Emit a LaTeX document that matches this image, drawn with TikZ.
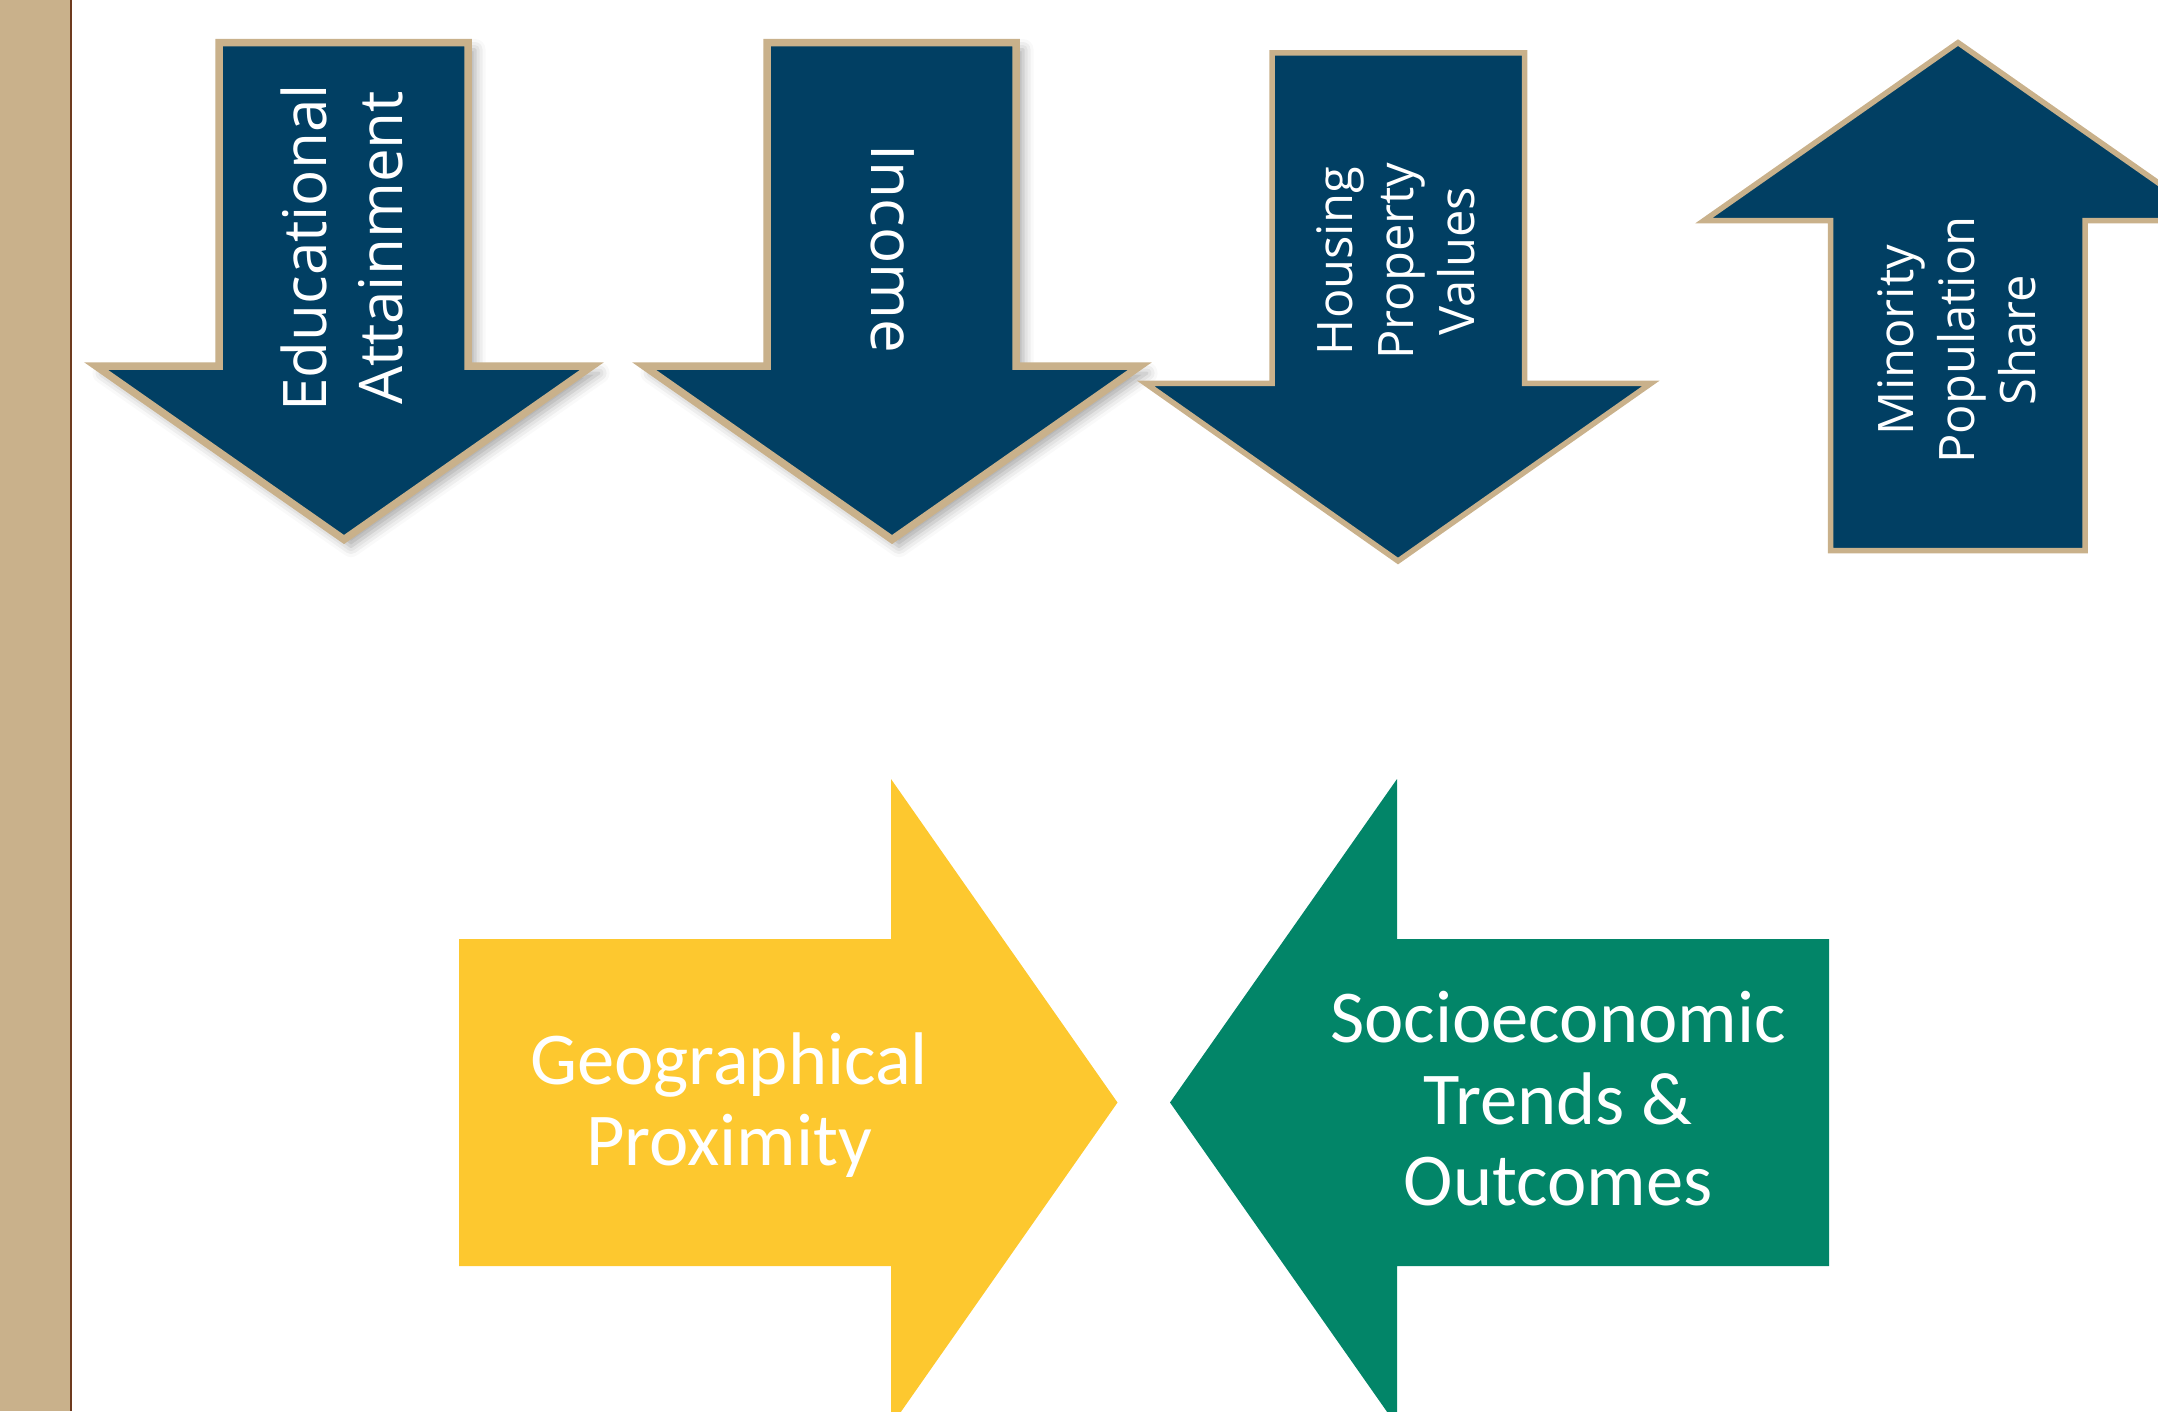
\documentclass[tikz,border=0pt]{standalone}
\usepackage{fontspec}
\newfontfamily\arrowfont{Open Sans}
\newfontfamily\calfont{Carlito}
\usetikzlibrary{shadows.blur}

\definecolor{navyblue}{RGB}{1,63,99}
\definecolor{sandtan}{RGB}{201,177,139}
\definecolor{barbrown}{RGB}{110,58,30}
\definecolor{goldyellow}{RGB}{253,200,47}
\definecolor{tealgreen}{RGB}{2,133,104}

\begin{document}
\begin{tikzpicture}[x=0.01cm,y=-0.01cm,
    bigarrow/.style={fill=navyblue,draw=sandtan,line width=0.075cm,
        blur shadow={shadow xshift=2pt,shadow yshift=-2pt,shadow blur radius=3pt,shadow opacity=35}},
    flatarrow/.style={fill=navyblue,draw=sandtan,line width=0.055cm},
    toplabel/.style={text=white,align=center,font=\arrowfont\fontsize{17.1}{21.6}\selectfont},
    smalllabel/.style={text=white,align=center,font=\arrowfont\fontsize{13.9}{17.4}\selectfont},
    biglabel/.style={text=white,align=center,font=\calfont\fontsize{21.2}{23.2}\selectfont}]

        \useasboundingbox (0,0) rectangle (2158,1411);
        \clip (0,0) rectangle (2158,1411);

        % side bar
        \fill[sandtan] (0,0) rectangle (70,1411);
        \draw[barbrown,line width=0.02cm] (71,0) -- (71,1411);

        % top row: down, down, down, up
        \draw[bigarrow] (219,42.5) -- (468,42.5) -- (468,366) -- (592,366) -- (344,539.5) -- (96,366) -- (219,366) -- cycle;
        \draw[bigarrow] (767,42.5) -- (1016,42.5) -- (1016,366) -- (1140,366) -- (892,539.5) -- (644,366) -- (767,366) -- cycle;
        \draw[flatarrow] (1272,52.8) -- (1524.5,52.8) -- (1524.5,383.3) -- (1651,383.3) -- (1398,561) -- (1145.5,383.3) -- (1272,383.3) -- cycle;
        \draw[flatarrow] (1958,42.6) -- (2212,220.5) -- (2085,220.5) -- (2085,550.5) -- (1830.5,550.5) -- (1830.5,220.5) -- (1704,220.5) -- cycle;

        \node[toplabel,rotate=90] (edu) at (342,248) {Educational\\Attainment};
        \node[toplabel,rotate=-90] (inc) at (893,249) {Income};
        \node[smalllabel,rotate=90] (house) at (1396,261) {Housing\\Property\\Values};
        \node[smalllabel,rotate=90] (minor) at (1957,340) {Minority\\Population\\Share};

        % bottom pair pointing at each other
        \fill[goldyellow] (459,939) -- (891,939) -- (891,779) -- (1117.5,1102.5) -- (891,1426) -- (891,1266) -- (459,1266) -- cycle;
        \fill[tealgreen] (1829,939) -- (1397,939) -- (1397,779) -- (1170,1102.5) -- (1397,1426) -- (1397,1266) -- (1829,1266) -- cycle;

        \node[biglabel] (geo) at (729,1105) {Geographical\\Proximity};
        \node[biglabel] (socio) at (1558,1099) {Socioeconomic\\Trends \&\\Outcomes};
\end{tikzpicture}
\end{document}
